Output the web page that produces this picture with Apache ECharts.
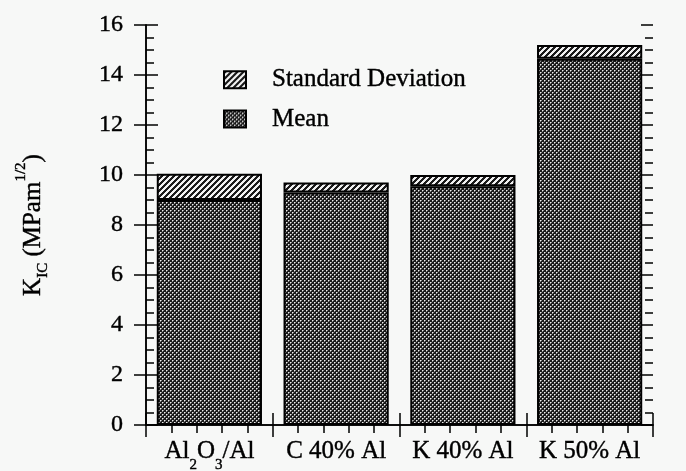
<!DOCTYPE html>
<html>
<head>
<meta charset="utf-8">
<script src="https://cdn.jsdelivr.net/npm/echarts@6/dist/echarts.min.js"></script>
<style>
  html, body { margin: 0; padding: 0; background: #f7f8f7; }
  #chart { width: 686px; height: 471px; }
</style>
</head>
<body>
<div id="chart"></div>
<script>
// data
const categories = ['Al2O3/Al', 'C 40% Al', 'K 40% Al', 'K 50% Al'];
const meanValues = [9.0, 9.3, 9.55, 14.65];
const stdDevValues = [1.05, 0.4, 0.45, 0.55];
const yTicks = { min: 0, max: 16, interval: 2 };

const FONT = 'Liberation Serif';
const INK = { textBorderColor: '#000', textBorderWidth: 0.4 };

// halftone dots for the mean bars
function meanPattern() {
    let c = document.createElement('canvas');
    c.width = 4; c.height = 4;
    let ctx = c.getContext('2d');
    ctx.fillStyle = '#1a1a1a';
    ctx.fillRect(0, 0, 4, 4);
    ctx.fillStyle = '#8a8a8a';
    [[1, 0], [0, 1], [3, 2], [2, 3]].forEach(p => ctx.fillRect(p[0], p[1], 1, 1));
    ctx.fillStyle = '#ececec';
    [[0, 0], [2, 2]].forEach(p => ctx.fillRect(p[0], p[1], 1, 1));
    return c;
}
// diagonal hatch for the std deviation part
function hatchPattern() {
    let c = document.createElement('canvas');
    c.width = 6; c.height = 6;
    let ctx = c.getContext('2d');
    ctx.fillStyle = '#f0f0f0';
    ctx.fillRect(0, 0, 6, 6);
    ctx.fillStyle = '#1a1a1a';
    for (let x = 0; x < 6; x++) {
        for (let y = 0; y < 6; y++) {
            if ((x + y) % 6 < 3) ctx.fillRect(x, y, 1, 1);
        }
    }
    return c;
}

let chart = echarts.init(document.getElementById('chart'));

const lineStyle = { color: '#000', width: 1.5 };

function catLabel(v) {
    if (v === 'Al2O3/Al') return '{t|Al}{s|2}{t|O}{s|3}{t|/Al}';
    return '{t|' + v + '}';
}

let option = {
    backgroundColor: '#f7f8f7',
    animation: false,
    textStyle: { fontFamily: FONT },
    grid: { left: 146, right: 33, top: 25, bottom: 46, outerBoundsMode: 'none' },
    legend: {
        orient: 'vertical',
        left: 218,
        top: 62,
        itemWidth: 22,
        itemHeight: 17,
        itemGap: 14,
        icon: 'rect',
        data: ['Standard Deviation', 'Mean'],
        textStyle: Object.assign({ fontFamily: FONT, fontSize: 25, color: '#000', padding: [0, 0, 0, 21] }, INK)
    },
    xAxis: [
        {
            type: 'category',
            data: categories,
            position: 'bottom',
            axisLine: { lineStyle: lineStyle },
            axisTick: { show: true, length: 12, interval: 0, lineStyle: lineStyle },
            axisLabel: {
                margin: 14,
                interval: 0,
                color: '#000',
                formatter: catLabel,
                rich: {
                    t: Object.assign({ fontFamily: FONT, fontSize: 25, color: '#000', verticalAlign: 'top' }, INK),
                    s: Object.assign({ fontFamily: FONT, fontSize: 15, color: '#000', verticalAlign: 'top', padding: [19, 0, 0, 0] }, INK)
                }
            }
        },
        {
            type: 'value', min: 0, max: 4, interval: 1, position: 'bottom',
            axisLine: { show: false },
            axisTick: { show: true, inside: true, length: 12, lineStyle: lineStyle },
            axisLabel: { show: false },
            splitLine: { show: false }
        },
        {
            type: 'value', min: 0, max: 4, interval: 1, position: 'top',
            axisLine: { show: true, lineStyle: lineStyle },
            axisTick: { show: true, length: 12, lineStyle: lineStyle },
            axisLabel: { show: false },
            splitLine: { show: false }
        },
        {
            type: 'value', min: 0, max: 4, interval: 1, position: 'top',
            axisLine: { show: false },
            axisTick: { show: true, inside: true, length: 12, lineStyle: lineStyle },
            minorTick: { show: true, splitNumber: 5, length: 8, lineStyle: lineStyle },
            axisLabel: { show: false },
            splitLine: { show: false }
        }
    ],
    yAxis: [
        {
            type: 'value', min: yTicks.min, max: yTicks.max, interval: yTicks.interval,
            position: 'left',
            name: '{k|K}{sub|IC}{k| (MPam}{sup|1/2}{k|)}',
            nameLocation: 'middle',
            nameGap: 95,
            nameRotate: 90,
            nameTextStyle: {
                rich: {
                    k: Object.assign({ fontFamily: FONT, fontSize: 25, color: '#000', verticalAlign: 'top', padding: [7, 0, 0, 0] }, INK),
                    sub: Object.assign({ fontFamily: FONT, fontSize: 15, color: '#000', verticalAlign: 'top', padding: [22, 0, 0, 0] }, INK),
                    sup: Object.assign({ fontFamily: FONT, fontSize: 15, color: '#000', verticalAlign: 'top', padding: [0, 0, 0, 0] }, INK)
                }
            },
            axisLine: { show: true, lineStyle: lineStyle },
            axisTick: { show: true, length: 12, lineStyle: lineStyle },
            axisLabel: Object.assign({ margin: 23, color: '#000', fontFamily: FONT, fontSize: 24 }, INK),
            splitLine: { show: false }
        },
        {
            type: 'value', min: yTicks.min, max: yTicks.max, interval: yTicks.interval,
            position: 'left',
            axisLine: { show: false },
            axisTick: { show: true, inside: true, length: 12, lineStyle: lineStyle },
            minorTick: { show: true, splitNumber: 4, length: 8, lineStyle: lineStyle },
            axisLabel: { show: false },
            splitLine: { show: false }
        },
        {
            type: 'value', min: yTicks.min, max: yTicks.max, interval: yTicks.interval,
            position: 'right',
            axisLine: { show: true, lineStyle: lineStyle },
            axisTick: { show: true, length: 12, lineStyle: lineStyle },
            axisLabel: { show: false },
            splitLine: { show: false }
        },
        {
            type: 'value', min: yTicks.min, max: yTicks.max, interval: yTicks.interval,
            position: 'right',
            axisLine: { show: false },
            axisTick: { show: true, inside: true, length: 12, lineStyle: lineStyle },
            minorTick: { show: true, splitNumber: 4, length: 8, lineStyle: lineStyle },
            axisLabel: { show: false },
            splitLine: { show: false }
        }
    ],
    series: [
        {
            name: 'Mean',
            type: 'bar',
            stack: 'k',
            data: meanValues,
            barCategoryGap: '17%',
            itemStyle: {
                color: { image: meanPattern(), repeat: 'repeat' },
                borderColor: '#000',
                borderWidth: 2
            }
        },
        {
            name: 'Standard Deviation',
            type: 'bar',
            stack: 'k',
            data: stdDevValues,
            barCategoryGap: '17%',
            itemStyle: {
                color: { image: hatchPattern(), repeat: 'repeat' },
                borderColor: '#000',
                borderWidth: 2
            }
        }
    ]
};

chart.setOption(option);
</script>
</body>
</html>
